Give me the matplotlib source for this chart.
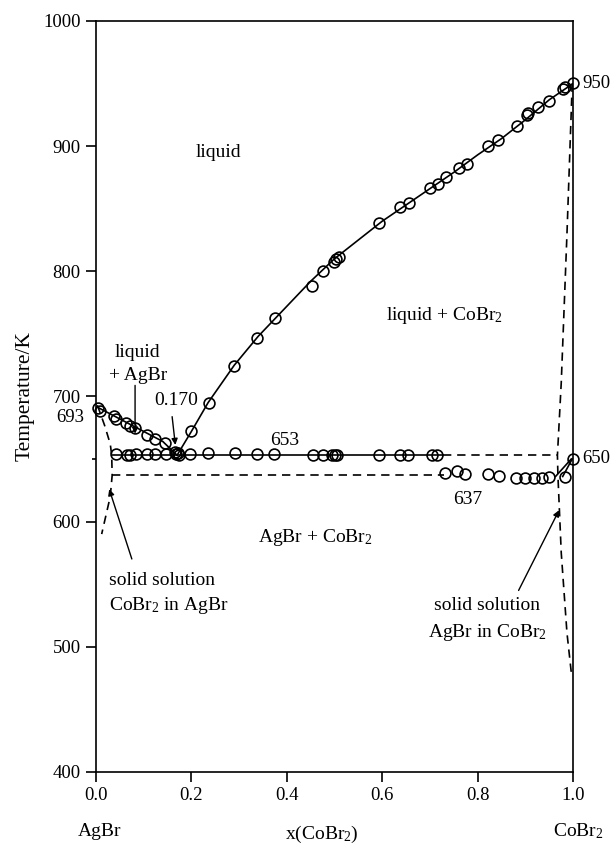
import numpy as np
import matplotlib
matplotlib.use("Agg")
import matplotlib.pyplot as plt

plt.rcParams['font.family'] = ['Liberation Serif', 'DejaVu Serif']
plt.rcParams['mathtext.fontset'] = 'custom'
plt.rcParams['mathtext.rm'] = 'Liberation Serif'
plt.rcParams['mathtext.it'] = 'Liberation Serif:italic'

# measured liquidus points, AgBr side
liq_ag_x = [0.005, 0.008, 0.038, 0.043, 0.064, 0.071, 0.082, 0.106, 0.124, 0.145, 0.166, 0.172]
liq_ag_T = [690.6, 688.7, 684.4, 681.8, 678.6, 676.4, 674.6, 669.2, 665.8, 662.6, 655.9, 654.6]

# measured liquidus points, CoBr2 side
liq_co_x = [0.199, 0.236, 0.289, 0.337, 0.375, 0.453, 0.476, 0.499, 0.504, 0.510,
            0.594, 0.637, 0.655, 0.700, 0.716, 0.734, 0.760, 0.777, 0.821, 0.843,
            0.883, 0.903, 0.906, 0.927, 0.950, 0.978, 0.983, 0.999]
liq_co_T = [672.4, 694.5, 724.4, 746.4, 762.4, 788.5, 800.5, 807.7, 809.6, 811.7,
            838.8, 851.1, 854.8, 866.3, 869.7, 875.1, 882.3, 885.7, 900.1, 904.9,
            916.1, 924.8, 926.2, 931.5, 936.3, 945.4, 947.5, 950.2]

# eutectic arrest points
eut_x = [0.042, 0.066, 0.071, 0.083, 0.106, 0.124, 0.147, 0.167, 0.173, 0.198, 0.235,
         0.291, 0.337, 0.374, 0.454, 0.476, 0.495, 0.500, 0.505, 0.593, 0.637, 0.654,
         0.704, 0.714]
eut_T = [654, 653.5, 653.5, 654, 654, 654, 654, 654, 653.5, 654, 655,
         654.5, 654, 654, 653.5, 653.5, 653.5, 653.5, 653.5, 653, 653, 653,
         653.5, 653.5]

# lower thermal arrests
low_x = [0.732, 0.756, 0.774, 0.822, 0.845, 0.881, 0.899, 0.917, 0.934, 0.950, 0.983]
low_T = [638.7, 640.7, 638.1, 638.1, 636.7, 634.7, 634.7, 634.7, 634.7, 635.5, 635.5]

# pure CoBr2 points
co_x = [1.0]
co_T = [650]

# liquidus curves
curve_ag_x = [0.0, 0.05, 0.10, 0.14, 0.170]
curve_ag_T = [692, 682, 672, 664, 653]
curve_co_x = [0.170, 0.20, 0.235, 0.29, 0.34, 0.40, 0.45, 0.50, 0.55, 0.60, 0.65,
              0.70, 0.75, 0.80, 0.85, 0.90, 0.95, 1.0]
curve_co_T = [653, 672, 695, 725, 748, 772, 792, 810, 825, 840, 853,
              866, 879, 893, 906, 921, 937, 950]

# solidus / solvus lines (dashed)
sol_ag_x = [0.003, 0.018, 0.030, 0.033, 0.034, 0.030, 0.012]
sol_ag_T = [693, 677, 662, 653, 637, 620, 590]
sol_co_x = [0.998, 0.987, 0.975, 0.967, 0.968, 0.975, 0.987, 0.997]
sol_co_T = [950, 830, 711, 653, 637, 575, 511, 476]

T_eut = 653
T_low = 637
x_eut = 0.170

fig = plt.figure(figsize=(6.15, 8.52), dpi=100)
ax = fig.add_axes([0.156, 0.094, 0.776, 0.8815])

lw = 1.2
dash = (5, 3.5)

ax.plot(curve_ag_x, curve_ag_T, c="k", lw=lw)
ax.plot(curve_co_x, curve_co_T, c="k", lw=lw)
ax.plot([0.034, 0.727], [T_eut, T_eut], c="k", lw=lw)
ax.plot([0.727, 0.966], [T_eut, T_eut], c="k", lw=lw, ls="--", dashes=dash)
ax.plot([0.034, 0.73], [T_low, T_low], c="k", lw=lw, ls="--", dashes=dash)
ax.plot(sol_ag_x, sol_ag_T, c="k", lw=lw, ls="--", dashes=dash)
ax.plot(sol_co_x, sol_co_T, c="k", lw=lw, ls="--", dashes=dash)
ax.plot([0.963, 0.996], [T_low - 1, co_T[0]], c="k", lw=lw)
ax.plot([0.978, 0.998], [T_low - 1, co_T[0]], c="k", lw=lw)

mk = dict(ls="none", marker="o", ms=7.8, mfc="none", mec="k", mew=1.2, clip_on=False)
for xs, ts in [(liq_ag_x, liq_ag_T), (liq_co_x, liq_co_T), (eut_x, eut_T),
               (low_x, low_T), (co_x, co_T)]:
    ax.plot(xs, ts, **mk)

ax.set_xlim(0, 1.0)
ax.set_ylim(400, 1000)
ax.set_xticks(np.arange(0, 1.01, 0.2))
ax.set_xticklabels(["0.0", "0.2", "0.4", "0.6", "0.8", "1.0"])
ax.set_yticks(np.arange(400, 1001, 100))
ax.set_yticks([650], minor=True)
ax.tick_params(direction="out", length=7, width=1.2, labelsize=13.5, pad=4)
ax.tick_params(axis="y", which="minor", direction="out", length=3, width=1.2)
ax.tick_params(top=False, right=False)
for s in ax.spines.values():
    s.set_linewidth(1.2)
ax.set_ylabel("Temperature/K", fontsize=15.5, labelpad=6)

fs = 14
ax.text(0.256, 895, "liquid", fontsize=fs, ha="center", va="center")
ax.text(0.73, 765, "liquid + CoBr$_2$", fontsize=fs, ha="center", va="center")
ax.text(0.46, 587, "AgBr + CoBr$_2$", fontsize=fs, ha="center", va="center")
ax.text(0.088, 735, "liquid", fontsize=fs, ha="center", va="center")
ax.text(0.088, 717, "+ AgBr", fontsize=fs, ha="center", va="center")
ax.annotate("", xy=(0.082, 668), xytext=(0.082, 711),
            arrowprops=dict(arrowstyle="-|>", color="k", lw=1.0, mutation_scale=9))
ax.text(0.168, 697, "0.170", fontsize=fs, ha="center", va="center")
ax.annotate("", xy=(0.167, 659), xytext=(0.159, 686),
            arrowprops=dict(arrowstyle="-|>", color="k", lw=1.0, mutation_scale=9))
ax.text(0.396, 665, str(T_eut), fontsize=fs, ha="center", va="center")
ax.text(0.78, 618, str(T_low), fontsize=fs, ha="center", va="center")
ax.text(0.027, 553, "solid solution", fontsize=fs, ha="left", va="center")
ax.text(0.027, 533, "CoBr$_2$ in AgBr", fontsize=fs, ha="left", va="center")
ax.annotate("", xy=(0.026, 628), xytext=(0.077, 568),
            arrowprops=dict(arrowstyle="-|>", color="k", lw=1.0, mutation_scale=9))
ax.text(0.82, 533, "solid solution", fontsize=fs, ha="center", va="center")
ax.text(0.82, 511, "AgBr in CoBr$_2$", fontsize=fs, ha="center", va="center")
ax.annotate("", xy=(0.973, 611), xytext=(0.883, 543),
            arrowprops=dict(arrowstyle="-|>", color="k", lw=1.0, mutation_scale=9))

ax.text(-0.025, 683, "693", fontsize=13.5, ha="right", va="center", clip_on=False)
ax.text(1.02, 950, "950", fontsize=13.5, ha="left", va="center", clip_on=False)
ax.text(1.02, 650, "650", fontsize=13.5, ha="left", va="center", clip_on=False)

fig.text(100 / 615, 1 - 831 / 852, "AgBr", fontsize=fs, ha="center", va="center")
fig.text(322 / 615, 1 - 834 / 852, "x(CoBr$_2$)", fontsize=fs, ha="center", va="center")
fig.text(578 / 615, 1 - 831 / 852, "CoBr$_2$", fontsize=fs, ha="center", va="center")

fig.savefig("out.png", dpi=100)
